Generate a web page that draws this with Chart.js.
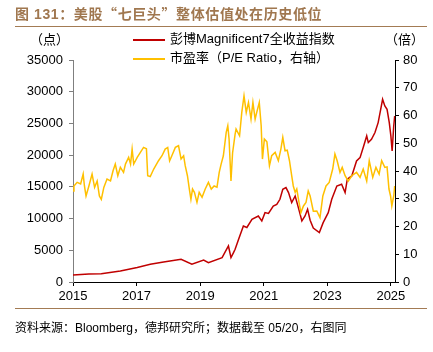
<!DOCTYPE html>
<html>
<head>
<meta charset="utf-8">
<script src="https://cdn.jsdelivr.net/npm/chart.js@4/dist/chart.umd.min.js"></script>
<style>
    body { margin: 0; background: #fff; }
    #wrap { position: relative; width: 433px; height: 352px; overflow: hidden;
            font-family: "Liberation Sans", "Noto Sans CJK SC", sans-serif; color: #000; }
    #wrap canvas { position: absolute; left: 0; top: 0; }
    .txt { position: absolute; white-space: nowrap; line-height: 1; }
    .title { left: 15px; top: 6px; font-size: 14px; font-weight: bold; color: #a0774f; letter-spacing: 0.6px; }
    .cjk { font-family: "Noto Sans CJK SC", sans-serif; }
    .rule { position: absolute; left: 15px; width: 412px; height: 0; border-top: 1.5px solid #a37b54; }
    .unit { top: 33px; font-size: 13px; }
    .legend { left: 133px; font-size: 13px; }
    .legend i { display: inline-block; width: 32px; height: 0; border-top: 2px solid; vertical-align: middle; margin-right: 5px; }
    .source { left: 15px; top: 322px; font-size: 12px; }
</style>
</head>
<body>
<div id="wrap">
    <canvas id="chart" width="433" height="352"></canvas>
    <div class="txt title">图 131：美股<span class="cjk">“</span>七巨头<span class="cjk">”</span>整体估值处在历史低位</div>
    <div class="rule" style="top:26px"></div>
    <div class="txt unit" style="left:30px">（点）</div>
    <div class="txt unit" style="left:385px">（倍）</div>
    <div class="txt legend" style="top:32px"><i style="border-color:#c00000"></i>彭博Magnificent7全收益指数</div>
    <div class="txt legend" style="top:51px"><i style="border-color:#ffc000"></i>市盈率（P/E Ratio，右轴）</div>
    <div class="rule" style="top:308px"></div>
    <div class="txt source">资料来源：Bloomberg，德邦研究所；数据截至 05/20，右图同</div>
</div>
<script>
    "use strict";

    // Magnificent 7 total return index (left axis)
    let indexYears = [2015.00, 2015.50, 2015.89, 2016.49, 2017.02, 2017.43, 2017.85, 2018.40, 2018.74, 2019.11,
        2019.26, 2019.69, 2019.89, 2019.97, 2020.05, 2020.10, 2020.21, 2020.36, 2020.47, 2020.63,
        2020.83, 2020.94, 2021.04, 2021.15, 2021.30, 2021.41, 2021.51, 2021.60, 2021.70, 2021.78,
        2021.88, 2021.99, 2022.09, 2022.20, 2022.30, 2022.38, 2022.46, 2022.56, 2022.75, 2022.87,
        2023.03, 2023.14, 2023.30, 2023.45, 2023.56, 2023.63, 2023.77, 2023.92, 2024.03, 2024.13,
        2024.24, 2024.29, 2024.39, 2024.50, 2024.60, 2024.68, 2024.74, 2024.81, 2024.88, 2024.95,
        2025.00, 2025.04, 2025.09, 2025.12];
    let indexValues = [1100, 1250, 1300, 1730, 2270, 2790, 3150, 3580, 2790, 3470,
        3050, 3850, 5680, 3850, 4640, 5160, 6740, 8830, 8600, 9890,
        10400, 9620, 10940, 10800, 11980, 12250, 13040, 14620, 14890, 14100,
        12520, 13560, 11730, 9620, 10410, 11460, 9750, 8500, 7790, 9360,
        10940, 13040, 15140, 15410, 14100, 16200, 16720, 19080, 19610, 21190,
        23030, 21980, 22500, 23560, 25130, 27230, 28800, 27750, 27230, 25130,
        23030, 20660, 24600, 26170];

    // P/E ratio (right axis)
    let peYears = [2015.00, 2015.03, 2015.13, 2015.24, 2015.32, 2015.36, 2015.41, 2015.50, 2015.60, 2015.68,
        2015.76, 2015.83, 2015.89, 2015.97, 2016.07, 2016.18, 2016.26, 2016.33, 2016.41, 2016.49,
        2016.59, 2016.65, 2016.75, 2016.81, 2016.86, 2016.91, 2017.02, 2017.12, 2017.22, 2017.31,
        2017.35, 2017.43, 2017.54, 2017.69, 2017.80, 2017.90, 2017.98, 2018.04, 2018.11, 2018.22,
        2018.32, 2018.40, 2018.48, 2018.53, 2018.60, 2018.66, 2018.71, 2018.76, 2018.82, 2018.90,
        2018.97, 2019.06, 2019.16, 2019.26, 2019.35, 2019.44, 2019.53, 2019.60, 2019.66, 2019.73,
        2019.82, 2019.87, 2019.91, 2019.97, 2020.02, 2020.10, 2020.13, 2020.24, 2020.31, 2020.38,
        2020.45, 2020.52, 2020.60, 2020.66, 2020.73, 2020.78, 2020.86, 2020.92, 2020.96, 2021.02,
        2021.10, 2021.18, 2021.25, 2021.36, 2021.46, 2021.54, 2021.60, 2021.67, 2021.74, 2021.81,
        2021.88, 2021.93, 2021.99, 2022.04, 2022.11, 2022.17, 2022.25, 2022.33, 2022.40, 2022.46,
        2022.56, 2022.67, 2022.77, 2022.86, 2022.96, 2023.06, 2023.17, 2023.24, 2023.31, 2023.40,
        2023.47, 2023.56, 2023.66, 2023.77, 2023.92, 2024.03, 2024.13, 2024.24, 2024.32, 2024.43,
        2024.53, 2024.63, 2024.71, 2024.81, 2024.88, 2024.94, 2024.99, 2025.03, 2025.09, 2025.12];
    let peValues = [32.8, 34.6, 35.9, 35.3, 38.9, 34.6, 31.0, 34.6, 38.9, 34.1,
        36.4, 31.0, 29.8, 34.1, 37.1, 36.4, 40.1, 42.5, 38.3, 41.3,
        39.5, 42.5, 44.9, 42.5, 47.9, 42.5, 44.9, 46.7, 48.5, 48.0,
        38.3, 38.0, 40.7, 43.7, 45.5, 47.9, 48.5, 43.7, 45.5, 48.5,
        49.1, 44.3, 45.5, 41.9, 38.3, 33.5, 29.8, 33.5, 32.3, 28.7,
        32.3, 30.5, 33.5, 35.9, 33.5, 34.6, 34.2, 39.5, 42.5, 45.5,
        53.9, 56.3, 51.5, 36.4, 46.5, 53.3, 55.1, 52.7, 61.1, 67.1,
        61.1, 64.7, 58.7, 64.7, 58.7, 61.1, 64.7, 56.3, 44.3, 51.5,
        50.5, 41.9, 45.5, 46.7, 43.7, 47.9, 52.1, 47.3, 47.5, 43.7,
        38.3, 34.6, 32.3, 33.5, 28.7, 25.0, 27.4, 28.7, 32.8, 31.0,
        25.5, 25.6, 23.2, 31.0, 34.6, 35.9, 40.7, 46.1, 43.7, 39.5,
        41.3, 38.3, 36.4, 38.3, 39.5, 37.7, 40.7, 36.4, 43.7, 37.7,
        41.3, 38.9, 43.7, 41.3, 41.5, 33.5, 31.0, 27.4, 31.0, 34.6];

    let xTickYears = [2015, 2017, 2019, 2021, 2023, 2025];

    function points(xs, ys) {
        return xs.map((x, i) => ({x: x, y: ys[i]}));
    }

    let tickFont = {family: '"Liberation Sans", "Noto Sans CJK SC", sans-serif', size: 13};

    new Chart(document.getElementById('chart'), {
        type: 'line',
        data: {
            datasets: [
                {
                    label: '彭博Magnificent7全收益指数',
                    data: points(indexYears, indexValues),
                    yAxisID: 'y',
                    borderColor: '#c00000',
                    borderWidth: 1.5,
                    order: 2,
                },
                {
                    label: '市盈率（P/E Ratio，右轴）',
                    data: points(peYears, peValues),
                    yAxisID: 'y1',
                    borderColor: '#ffc000',
                    borderWidth: 1.5,
                    order: 1,
                },
            ],
        },
        options: {
            responsive: false,
            animation: false,
            devicePixelRatio: 1,
            elements: {
                point: {radius: 0},
                line: {tension: 0},
            },
            layout: {
                padding: {top: 60, left: 0, right: 0, bottom: 0},
            },
            plugins: {
                legend: {display: false},
                tooltip: {enabled: false},
            },
            scales: {
                x: {
                    type: 'linear',
                    min: 2015,
                    max: 2025.13,
                    afterBuildTicks: axis => { axis.ticks = xTickYears.map(v => ({value: v})); },
                    afterFit: axis => { axis.height = 70; },
                    border: {color: '#000', width: 1},
                    grid: {drawOnChartArea: false, tickLength: 4, color: '#000'},
                    ticks: {font: tickFont, color: '#000', padding: 3, maxRotation: 0, callback: v => String(v)},
                },
                y: {
                    position: 'left',
                    min: 0,
                    max: 35000,
                    afterFit: axis => { axis.width = 73; },
                    border: {color: '#7f7f7f', width: 1},
                    grid: {drawOnChartArea: false, tickLength: 4, color: '#7f7f7f'},
                    ticks: {stepSize: 5000, font: tickFont, color: '#000', padding: 6, callback: v => String(v)},
                },
                y1: {
                    position: 'right',
                    min: 0,
                    max: 80,
                    afterFit: axis => { axis.width = 38; },
                    border: {color: '#000', width: 1},
                    grid: {drawOnChartArea: false, tickLength: 4, color: '#000'},
                    ticks: {stepSize: 10, font: tickFont, color: '#000', padding: 4, callback: v => String(v)},
                },
            },
        },
    });
</script>
</body>
</html>
